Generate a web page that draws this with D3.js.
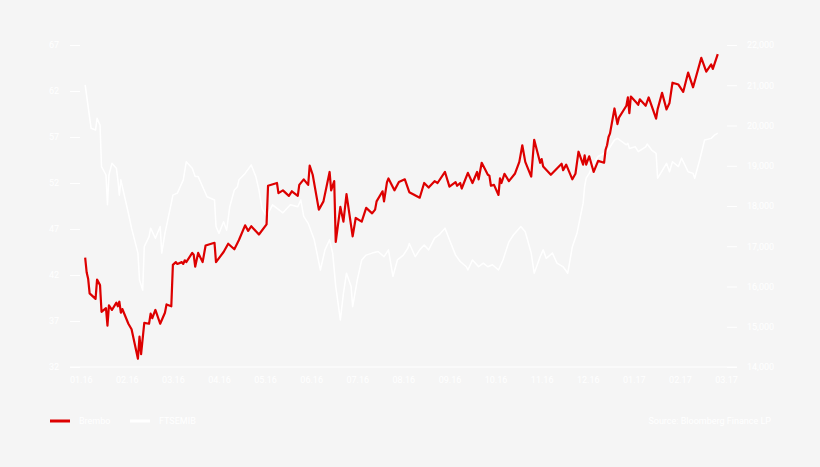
<!DOCTYPE html>
<meta charset="utf-8">
<head>
  <title>Brembo vs FTSEMIB</title>
  <script src="https://d3js.org/d3.v7.min.js"></script>
  <style>
    body { margin: 0; background: #f5f5f5; }
    text { font-family: Roboto, "Noto Sans", sans-serif; font-size: 9px; fill: #fff; }
  </style>
</head>
<body>
  <div id="chart"></div>
  <script>
    // month labels on the x axis (evenly spaced in the original)
    var monthLabels = ["01.16", "02.16", "03.16", "04.16", "05.16", "06.16", "07.16",
      "08.16", "09.16", "10.16", "11.16", "12.16", "01.17", "02.17", "03.17"];
    var leftTicks = [32, 37, 42, 47, 52, 57, 62, 67];
    var rightTicks = [14000, 15000, 16000, 17000, 18000, 19000, 20000, 21000, 22000];

    var bremboDates = ["2016-01-04", "2016-01-05", "2016-01-06", "2016-01-07", "2016-01-11", "2016-01-12", "2016-01-14", "2016-01-15", "2016-01-18", "2016-01-19", "2016-01-20", "2016-01-22", "2016-01-25", "2016-01-26", "2016-01-27", "2016-01-28", "2016-01-29",
      "2016-02-02", "2016-02-04", "2016-02-08", "2016-02-09", "2016-02-10", "2016-02-12", "2016-02-15", "2016-02-16", "2016-02-17", "2016-02-19", "2016-02-22", "2016-02-25", "2016-02-26", "2016-02-29",
      "2016-03-01", "2016-03-03", "2016-03-04", "2016-03-07", "2016-03-08", "2016-03-09", "2016-03-10", "2016-03-14", "2016-03-15", "2016-03-16", "2016-03-18", "2016-03-21", "2016-03-23", "2016-03-29", "2016-03-30",
      "2016-04-04", "2016-04-07", "2016-04-11", "2016-04-14", "2016-04-18", "2016-04-20", "2016-04-22", "2016-04-27",
      "2016-05-02", "2016-05-03", "2016-05-09", "2016-05-10", "2016-05-13", "2016-05-17", "2016-05-19", "2016-05-23", "2016-05-24", "2016-05-27", "2016-05-30", "2016-05-31",
      "2016-06-02", "2016-06-06", "2016-06-09", "2016-06-13", "2016-06-14", "2016-06-16", "2016-06-17", "2016-06-20", "2016-06-22", "2016-06-24", "2016-06-28", "2016-06-30",
      "2016-07-04", "2016-07-07", "2016-07-11", "2016-07-13", "2016-07-14", "2016-07-18", "2016-07-19", "2016-07-21", "2016-07-22", "2016-07-26", "2016-07-29",
      "2016-08-02", "2016-08-05", "2016-08-12", "2016-08-15", "2016-08-18", "2016-08-22", "2016-08-24", "2016-08-29",
      "2016-09-01", "2016-09-05", "2016-09-06", "2016-09-08", "2016-09-09", "2016-09-13", "2016-09-16", "2016-09-19", "2016-09-20", "2016-09-22", "2016-09-26", "2016-09-27", "2016-09-28", "2016-09-30",
      "2016-10-03", "2016-10-04", "2016-10-05", "2016-10-07", "2016-10-10", "2016-10-14", "2016-10-17", "2016-10-19", "2016-10-21", "2016-10-25", "2016-10-27", "2016-10-31",
      "2016-11-01", "2016-11-02", "2016-11-07", "2016-11-14", "2016-11-15", "2016-11-17", "2016-11-21", "2016-11-23", "2016-11-25", "2016-11-28", "2016-11-29", "2016-11-30",
      "2016-12-02", "2016-12-05", "2016-12-08", "2016-12-12", "2016-12-13", "2016-12-14", "2016-12-15", "2016-12-16", "2016-12-19", "2016-12-21", "2016-12-22", "2016-12-27", "2016-12-28", "2016-12-29", "2016-12-30",
      "2017-01-03", "2017-01-04", "2017-01-05", "2017-01-09", "2017-01-11", "2017-01-16", "2017-01-17", "2017-01-20", "2017-01-23", "2017-01-25", "2017-01-27", "2017-01-31",
      "2017-02-03", "2017-02-06", "2017-02-09", "2017-02-14", "2017-02-17", "2017-02-20", "2017-02-21", "2017-02-24"];
    var bremboPrices = [43.9, 42.3, 41.6, 40.0, 39.4, 41.5, 40.9, 38.0, 38.4, 36.5, 38.7, 38.2, 39.0, 38.6, 39.1, 37.9, 38.3,
      36.7, 36.1, 32.9, 35.3, 33.4, 36.8, 36.7, 37.8, 37.3, 38.2, 36.7, 37.9, 38.8, 38.6,
      43.1, 43.4, 43.2, 43.4, 43.2, 43.6, 43.4, 44.4, 44.2, 42.9, 44.4, 43.4, 45.2, 45.5, 43.4,
      44.5, 45.4, 44.8, 45.8, 47.4, 46.8, 47.3, 46.4,
      47.5, 51.7, 52.0, 50.9, 51.2, 50.6, 51.1, 50.6, 51.8, 52.4, 51.8, 53.9,
      52.9, 49.1, 50.0, 53.2, 51.2, 52.2, 45.6, 49.4, 47.8, 50.8, 46.2, 48.2,
      47.8, 49.3, 48.7, 49.1, 50.0, 51.1, 50.0, 52.1, 52.5, 51.2, 52.1,
      52.4, 51.0, 50.4, 52.0, 51.5, 52.2, 52.0, 53.2,
      51.6, 52.1, 51.7, 52.0, 51.4, 53.1, 52.0, 53.2, 52.4, 54.2, 52.9, 52.8, 51.7, 51.8,
      50.7, 52.5, 52.0, 53.0, 52.2, 53.0, 54.3, 56.1, 54.3, 52.7, 56.7, 54.2,
      54.6, 53.8, 52.9, 54.1, 53.4, 54.0, 52.4, 53.0, 55.4, 54.0, 55.0, 54.0,
      54.9, 53.2, 54.4, 54.2, 55.6, 56.1, 57.0, 57.4, 60.1, 58.4, 59.1, 60.4, 61.3, 59.6, 61.4,
      60.7, 60.5, 61.1, 60.4, 61.3, 59.0, 60.0, 61.8, 60.0, 60.7, 62.9, 62.7,
      61.9, 64.0, 62.4, 65.6, 64.1, 64.9, 64.4, 66.0];

    var ftseDates = ["2016-01-04", "2016-01-06", "2016-01-08", "2016-01-11", "2016-01-12", "2016-01-14", "2016-01-15", "2016-01-18", "2016-01-19", "2016-01-20", "2016-01-22", "2016-01-25", "2016-01-26", "2016-01-27", "2016-01-28", "2016-01-29",
      "2016-02-02", "2016-02-04", "2016-02-08", "2016-02-09", "2016-02-11", "2016-02-12", "2016-02-15", "2016-02-16", "2016-02-19", "2016-02-22", "2016-02-23", "2016-02-25", "2016-02-29",
      "2016-03-01", "2016-03-04", "2016-03-08", "2016-03-10", "2016-03-14", "2016-03-16", "2016-03-18", "2016-03-21", "2016-03-24", "2016-03-29", "2016-03-30",
      "2016-04-01", "2016-04-04", "2016-04-06", "2016-04-08", "2016-04-11", "2016-04-13", "2016-04-14", "2016-04-18", "2016-04-22", "2016-04-25", "2016-04-27", "2016-04-29",
      "2016-05-02", "2016-05-06", "2016-05-13", "2016-05-18", "2016-05-23", "2016-05-25", "2016-05-27", "2016-05-30",
      "2016-06-03", "2016-06-07", "2016-06-10", "2016-06-13", "2016-06-15", "2016-06-17", "2016-06-20", "2016-06-22", "2016-06-24", "2016-06-27", "2016-06-28",
      "2016-07-01", "2016-07-04", "2016-07-07", "2016-07-11", "2016-07-15", "2016-07-19", "2016-07-22", "2016-07-25", "2016-07-28",
      "2016-08-01", "2016-08-04", "2016-08-05", "2016-08-09", "2016-08-12", "2016-08-15", "2016-08-18", "2016-08-22", "2016-08-25", "2016-08-29",
      "2016-09-01", "2016-09-05", "2016-09-08", "2016-09-12", "2016-09-13", "2016-09-16", "2016-09-20", "2016-09-23", "2016-09-26", "2016-09-29",
      "2016-10-03", "2016-10-06", "2016-10-10", "2016-10-13", "2016-10-18", "2016-10-21", "2016-10-25", "2016-10-27", "2016-10-31",
      "2016-11-02", "2016-11-04", "2016-11-08", "2016-11-11", "2016-11-15", "2016-11-18", "2016-11-21", "2016-11-24", "2016-11-28", "2016-11-29", "2016-11-30",
      "2016-12-02", "2016-12-05", "2016-12-08", "2016-12-12", "2016-12-14", "2016-12-19", "2016-12-21", "2016-12-27", "2016-12-28", "2016-12-29",
      "2017-01-02", "2017-01-04", "2017-01-09", "2017-01-10", "2017-01-13", "2017-01-16", "2017-01-17", "2017-01-19", "2017-01-23", "2017-01-25", "2017-01-27", "2017-01-31",
      "2017-02-02", "2017-02-06", "2017-02-09", "2017-02-10", "2017-02-13", "2017-02-16", "2017-02-20", "2017-02-22", "2017-02-24"];
    var ftseLevels = [21010, 20470, 19930, 19890, 20180, 20010, 18980, 18770, 18030, 18770, 19060, 18940, 18650, 18270, 18650, 18480,
      17820, 17450, 16830, 16160, 15910, 16990, 17240, 17450, 17200, 17490, 16830, 17320, 18070,
      18270, 18320, 18650, 19100, 18940, 18730, 18730, 18480, 18230, 18150, 17490,
      17320, 17610, 17400, 17980, 18400, 18480, 18650, 18810, 19020, 18730, 18400, 17940,
      17740, 18030, 17830, 18030, 17980, 18150, 17740, 17570,
      17160, 16410, 16910, 17160, 16830, 16000, 15170, 15830, 16330, 16000, 15500,
      16160, 16660, 16780, 16830, 16870, 16740, 16910, 16250, 16660,
      16780, 16950, 17070, 16740, 16910, 17030, 16910, 17200, 17280, 17450,
      17160, 16780, 16620, 16490, 16410, 16660, 16490, 16580, 16490, 16540,
      16410, 16660, 17110, 17280, 17490, 17360, 16830, 16330, 16740,
      16910, 16700, 16830, 16580, 16490, 16330, 16990, 17320, 18070, 18480, 18690,
      18810, 19060, 19230, 19310, 19350, 19640, 19680, 19520, 19560, 19430,
      19470, 19350, 19470, 19540, 19390, 19310, 18690, 18810, 19060, 18850, 19100, 18980,
      19190, 18850, 18810, 18690, 19140, 19640, 19680, 19760, 19810];

    var svgWidth = 820, svgHeight = 467;
    var margin = { left: 80, right: 727, top: 45, bottom: 367 };

    var svg = d3.select("#chart")
      .append("svg")
      .attr("width", svgWidth)
      .attr("height", svgHeight);

    var parse = d3.timeParse("%Y-%m-%d");
    var monthStarts = monthLabels.map(function (m) {
      return new Date(2000 + +m.slice(3), +m.slice(0, 2) - 1, 1);
    });

    // months are evenly spaced, so map each month start onto a point scale
    var xMonth = d3.scalePoint()
      .domain(monthLabels)
      .range([80.7, 726]);
    var x = d3.scaleTime()
      .domain(monthStarts)
      .range(monthLabels.map(function (m) { return xMonth(m); }));

    var yL = d3.scaleLinear().domain([32, 67]).range([margin.bottom, margin.top]);
    var yR = d3.scaleLinear().domain([14000, 22000]).range([margin.bottom, margin.top]);

    // bottom baseline
    svg.append("line")
      .attr("x1", margin.left - 10).attr("x2", margin.right + 10)
      .attr("y1", yL(32)).attr("y2", yL(32))
      .attr("stroke", "#fff").attr("stroke-width", 1);

    var gl = svg.append("g")
      .attr("transform", "translate(" + margin.left + ",0)")
      .call(d3.axisLeft(yL).tickValues(leftTicks).tickSize(10).tickPadding(11));
    var gr = svg.append("g")
      .attr("transform", "translate(" + margin.right + ",0)")
      .call(d3.axisRight(yR).tickValues(rightTicks).tickSize(10).tickPadding(10));
    var gx = svg.append("g")
      .attr("transform", "translate(0," + margin.bottom + ")")
      .call(d3.axisBottom(xMonth).tickSize(0).tickPadding(10));

    [gl, gr, gx].forEach(function (g) {
      g.select(".domain").remove();
      g.selectAll("line").attr("stroke", "#fff");
      g.selectAll("text").attr("fill", "#fff").style("font-size", "9px");
    });

    var ftse = ftseDates.map(function (d, i) { return { date: parse(d), value: ftseLevels[i] }; });
    var brembo = bremboDates.map(function (d, i) { return { date: parse(d), value: bremboPrices[i] }; });

    svg.append("path")
      .datum(ftse)
      .attr("fill", "none")
      .attr("stroke", "#fff")
      .attr("stroke-width", 1.5)
      .attr("stroke-linejoin", "round")
      .attr("d", d3.line().x(function (d) { return x(d.date); }).y(function (d) { return yR(d.value); }));

    svg.append("path")
      .datum(brembo)
      .attr("fill", "none")
      .attr("stroke", "#dd0000")
      .attr("stroke-width", 2.2)
      .attr("stroke-linejoin", "round")
      .attr("d", d3.line().x(function (d) { return x(d.date); }).y(function (d) { return yL(d.value); }));

    // legend
    var legend = [
      { name: "Brembo", color: "#dd0000", x: 50 },
      { name: "FTSEMIB", color: "#fff", x: 130 }
    ];
    var lg = svg.append("g").selectAll("g")
      .data(legend)
      .enter()
      .append("g")
      .attr("transform", function (d) { return "translate(" + d.x + ",421)"; });
    lg.append("line")
      .attr("x1", 0).attr("x2", 20)
      .attr("stroke", function (d) { return d.color; })
      .attr("stroke-width", 3);
    lg.append("text")
      .attr("x", 29).attr("dy", "0.35em")
      .text(function (d) { return d.name; });

    svg.append("text")
      .attr("x", 771).attr("y", 421).attr("dy", "0.35em")
      .attr("text-anchor", "end")
      .text("Source: Bloomberg Finance LP");
  </script>
</body>
</html>
